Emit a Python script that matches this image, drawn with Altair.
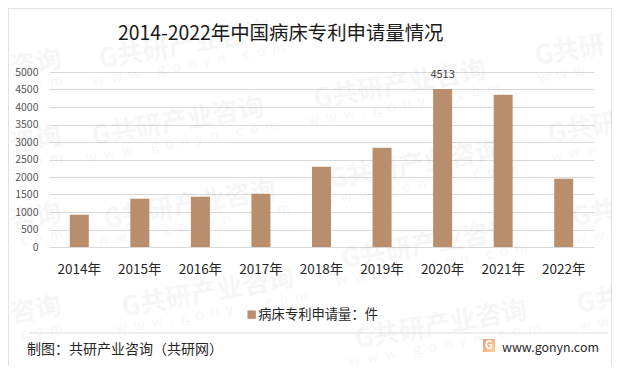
import altair as alt
import pandas as pd

years = ["2014年", "2015年", "2016年", "2017年", "2018年", "2019年", "2020年", "2021年", "2022年"]
values = [923, 1380, 1437, 1523, 2294, 2837, 4513, 4351, 1951]
series_name = "病床专利申请量：件"
labelled_year = "2020年"
title_text = "2014-2022年中国病床专利申请量情况"
footer_left = "制图：共研产业咨询（共研网）"
footer_right = "www.gonyn.com"
wm_main = "G共研产业咨询"
wm_sub = "\u2002".join("www.gonyn.com")
wm_tail = "咨询"
wm_tail_sub = "\u2002".join(".com")
wm_head = "G共研"
wm_head_sub = "\u2002".join("www")

FONT = "Noto Sans CJK SC"
L, T, W, H = 49, 72, 545, 175
WM = "#000000"
WMO = 0.03


def px(x):
    return alt.value(x - L)


def py(y):
    return alt.value(y - T)


df = pd.DataFrame({"year": years, "value": values, "series": series_name})
blank = alt.Chart(pd.DataFrame({"a": [0]}))


def label(text, x, y, size, color, align="left", **kw):
    return blank.mark_text(text=text, font=FONT, fontSize=size, color=color, align=align,
                           baseline="middle", **kw).encode(x=px(x), y=py(y))


layers = []
layers.append(blank.mark_rect(fillOpacity=0, stroke="#d9d9d9", strokeWidth=1.5).encode(
    x=px(8), x2=px(612), y=py(8), y2=py(370)))

for cx, cy in [(185, 45), (178, 122), (190, 205), (208, 293),
               (400, 85), (415, 165), (428, 245), (441, 325)]:
    layers.append(label(wm_main, cx, cy, 26, WM, "center", angle=350, fontWeight="bold", opacity=WMO))
    layers.append(label(wm_sub, cx + 4, cy + 20, 14, WM, "center", angle=350, opacity=WMO))

for y in [68, 145, 222, 315]:
    layers.append(label(wm_tail, 10, y, 26, WM, "left", angle=350, fontWeight="bold", opacity=WMO))
    layers.append(label(wm_tail_sub, 10, y + 22, 14, WM, "left", angle=350, opacity=WMO))

for x, y in [(535, 57), (548, 135), (572, 218), (577, 305)]:
    layers.append(label(wm_head, x, y, 26, WM, "left", angle=350, fontWeight="bold", opacity=WMO))
    layers.append(label(wm_head_sub, x + 3, y + 22, 14, WM, "left", angle=350, opacity=WMO))

x_enc = alt.X("year:N", sort=years, title=None,
              scale=alt.Scale(paddingInner=0, paddingOuter=0),
              axis=alt.Axis(labelAngle=0, ticks=False, labelFont=FONT, labelFontSize=13.5, labelColor="#262626",
                            labelPadding=15, domainColor="#d9d9d9", domainWidth=1.2, grid=False))
y_enc = alt.Y("value:Q", title=None,
              scale=alt.Scale(domain=[0, 5000], nice=False),
              axis=alt.Axis(values=list(range(0, 5001, 500)), ticks=False, domain=False, labelFont=FONT,
                            labelFontSize=10.5, labelColor="#595959", labelPadding=11, format="d",
                            gridColor="#d9d9d9", gridWidth=1.2))

layers.append(alt.Chart(df).mark_bar(size=19).encode(
    x=x_enc, y=y_enc,
    color=alt.Color("series:N", title=None,
                    scale=alt.Scale(range=["#b98e6d"]),
                    legend=alt.Legend(orient="none", legendX=247 - L - 2, legendY=308 - T, symbolType="square",
                                      symbolSize=70, symbolStrokeWidth=0, labelFont=FONT, labelFontSize=13.3,
                                      labelOffset=0, labelColor="#262626", labelLimit=200))))

layers.append(alt.Chart(df).transform_filter(alt.datum.year == labelled_year)
              .mark_text(font=FONT, fontSize=11, color="#404040", dy=-14)
              .encode(x=x_enc, y=y_enc, text=alt.Text("value:Q")))

layers.append(label(title_text, 118, 34, 19.4, "#1a1a1a"))
layers.append(blank.mark_rule(color="#dddddd", strokeWidth=1).encode(x=px(29), x2=px(608), y=py(333)))
layers.append(label(footer_left, 27, 350, 14, "#262626"))
layers.append(blank.mark_rect(color=alt.Gradient(
    gradient="linear", x1=0, y1=0, x2=1, y2=1,
    stops=[alt.GradientStop(offset=0, color="#f69a72"), alt.GradientStop(offset=1, color="#fbd0a0")]
)).encode(x=px(483), x2=px(495), y=py(339), y2=py(352)))
layers.append(label("G", 489, 345.5, 11, "white", "center", fontWeight="bold"))
layers.append(label(footer_right, 502, 348, 12.4, "#262626"))

chart = alt.layer(*layers).properties(
    width=W, height=H,
    background="white",
    padding={"left": L - 8, "top": T - 8, "right": 612 - L - W, "bottom": 366 - T - H},
    autosize=alt.AutoSizeParams(type="none"),
).configure_view(stroke=None)

chart.save("out.html", embed_options={"renderer": "svg", "actions": False})
